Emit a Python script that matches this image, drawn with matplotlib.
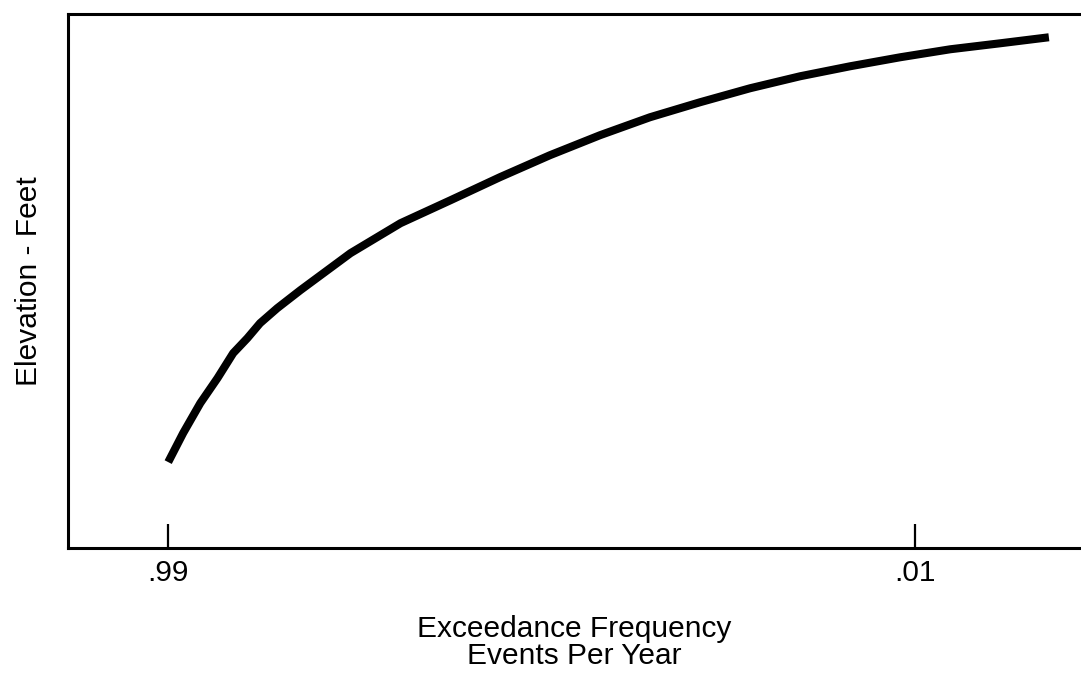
import matplotlib
matplotlib.use('Agg')
import matplotlib.pyplot as plt

# Frequency-curve. x: 0 = .99 tick, 1 = .01 tick
# y: relative elevation (arbitrary units, the original has no y values)
curve_x = [0.0, 0.020, 0.043, 0.066, 0.087, 0.106, 0.123, 0.146, 0.177, 0.244,
           0.311, 0.378, 0.444, 0.511, 0.578, 0.645, 0.712, 0.779, 0.846,
           0.913, 0.980, 1.047, 1.114, 1.179]
curve_y = [86, 115, 145, 170, 195, 210, 225, 240, 258, 295,
           325, 348, 371, 393, 413, 431, 446, 460, 472,
           482, 491, 499, 505, 511]

tick_pos = [0.0, 1.0]
tick_labels = ['.99', '.01']

plt.rcParams['font.family'] = ['Liberation Sans', 'DejaVu Sans']

fig = plt.figure(figsize=(10.81, 6.80), dpi=100)
ax = fig.add_axes([0.063, 0.194, 0.937, 0.785])

ax.plot(curve_x, curve_y, color='black', lw=5.8, solid_capstyle='butt',
        solid_joinstyle='round')

ax.set_xlim(-0.134, 1.222)
ax.set_ylim(0, 534)

ax.set_xticks(tick_pos)
ax.set_xticklabels(tick_labels, fontsize=21.5)
ax.tick_params(axis='x', direction='in', length=17, width=1.6, pad=8)
ax.set_yticks([])

ax.spines['right'].set_visible(False)
for side in ['left', 'top', 'bottom']:
    ax.spines[side].set_linewidth(2.2)

ax.set_xlabel('Exceedance Frequency\nEvents Per Year', fontsize=21.5, labelpad=20,
              linespacing=0.97)
ax.set_ylabel('Elevation - Feet', fontsize=21.5, labelpad=18)

fig.savefig('out.png', dpi=100)
